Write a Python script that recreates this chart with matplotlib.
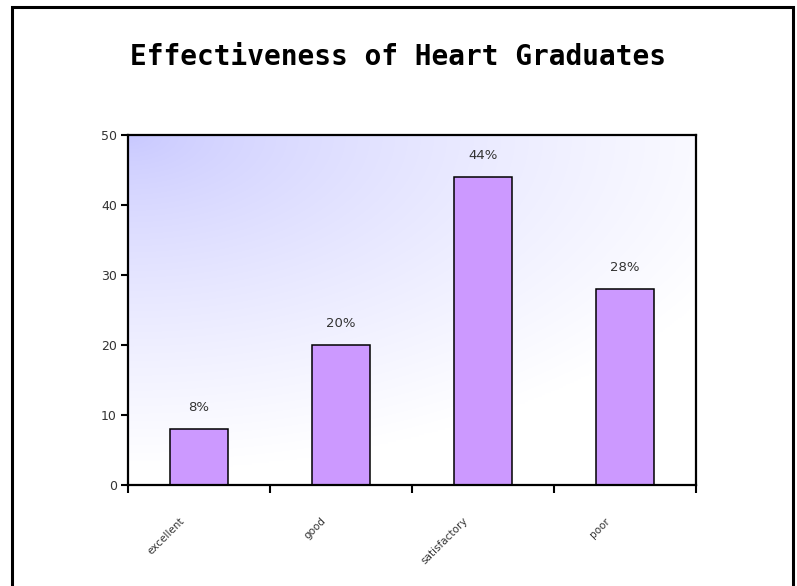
import numpy as np
import matplotlib
matplotlib.use("Agg")
import matplotlib.pyplot as plt
from matplotlib.patches import Rectangle
from matplotlib.ticker import FixedLocator
from matplotlib.transforms import ScaledTranslation

categories = ["excellent", "good", "satisfactory", "poor"]
values = [8, 20, 44, 28]
value_labels = ["8%", "20%", "44%", "28%"]
yticks = [0, 10, 20, 30, 40, 50]
title = "Effectiveness of Heart Graduates"

W, H = 797, 586
fig = plt.figure(figsize=(W / 100, H / 100), dpi=100)
fig.patch.set_facecolor("white")

# outer chart frame
fig.add_artist(Rectangle((12 / W, -0.05), (793 - 12) / W, (H - 7) / H + 0.05,
                         transform=fig.transFigure, fill=False,
                         edgecolor="black", linewidth=2.2, zorder=0))

left, right, top, bottom = 128, 696, 135, 485
ax = fig.add_axes([left / W, 1 - bottom / H, (right - left) / W, (bottom - top) / H])

# plot-area gradient: lavender in the upper left fading to white
ny, nx = 200, 300
yy, xx = np.mgrid[0:1:ny * 1j, 0:1:nx * 1j]
t = np.clip(np.sqrt((xx * 0.95) ** 2 + ((1 - yy) * 1.15) ** 2) / 1.1, 0, 1)
t = t ** 0.75
c0 = np.array([200, 200, 255]) / 255
c1 = np.array([255, 255, 255]) / 255
img = c0[None, None, :] * (1 - t[..., None]) + c1[None, None, :] * t[..., None]
ax.imshow(img, extent=[-0.5, len(categories) - 0.5, 0, 50], origin="lower",
          aspect="auto", zorder=0, interpolation="bilinear")

x = np.arange(len(categories))
ax.bar(x, values, width=0.405, color="#cc99ff", edgecolor="black",
       linewidth=1.1, zorder=2)
for xi, v, lab in zip(x, values, value_labels):
    ax.text(xi, v + 3.1, lab, ha="center", va="center", fontsize=9.5,
            color="#333333", family="DejaVu Sans")

ax.set_xlim(-0.5, len(categories) - 0.5)
ax.set_ylim(0, 50)
ax.set_yticks(yticks)
ax.set_yticklabels([str(v) for v in yticks], fontsize=9, color="#333333")
ax.tick_params(axis="y", direction="out", length=5, width=1.5, pad=3)

ax.set_xticks(x)
ax.set_xticklabels(categories, rotation=45, ha="right", va="top",
                   rotation_mode="anchor", fontsize=7.5, color="#333333")
ax.tick_params(axis="x", which="major", length=0, pad=0)
shift = ScaledTranslation(-20 / 100, -31 / 100, fig.dpi_scale_trans)
for lbl in ax.get_xticklabels():
    lbl.set_transform(lbl.get_transform() + shift)
ax.xaxis.set_minor_locator(FixedLocator(np.arange(-0.5, len(categories), 1.0)))
ax.tick_params(axis="x", which="minor", direction="out", length=6, width=1.5)

for sp in ax.spines.values():
    sp.set_linewidth(1.6)
    sp.set_color("black")

fig.text(0.5, 1 - 57 / H, title, ha="center", va="center", fontsize=20,
         fontweight="bold", family="DejaVu Sans Mono")

fig.savefig("out.png", dpi=100, facecolor="white")
